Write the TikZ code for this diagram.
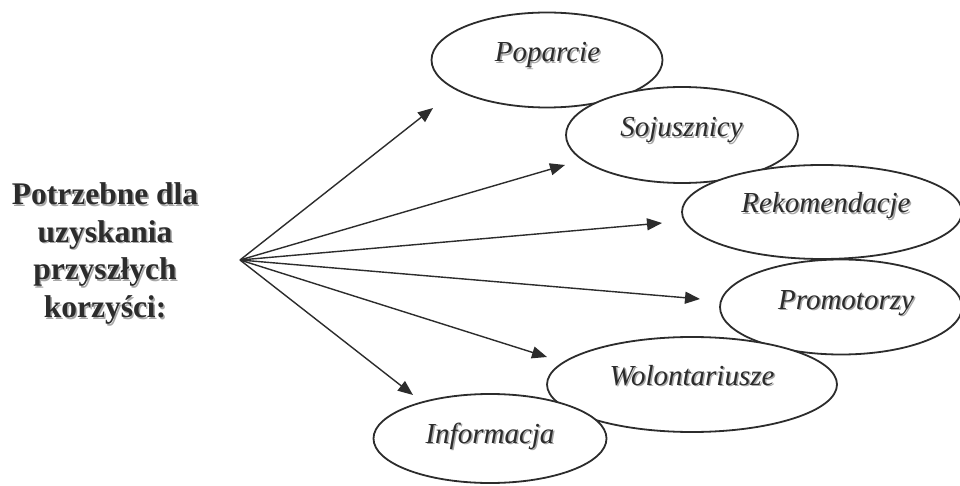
\documentclass[tikz,border=0pt]{standalone}
\usepackage{fontspec}
\setmainfont{Liberation Serif}
\usetikzlibrary{arrows.meta,shapes.geometric}
\definecolor{ink}{HTML}{2C2C2C}
\definecolor{shade}{HTML}{A8A8A8}
\begin{document}
\begin{tikzpicture}[x=1pt,y=-1pt,
  oval/.style={ellipse, draw=ink, line width=1.8pt, fill=white, inner sep=0pt},
  lbl/.style={anchor=base, inner sep=0pt, text=ink, font=\fontsize{29}{34}\selectfont\itshape},
  lblshadow/.style={lbl, text=shade},
  ttl/.style={anchor=north, align=center, inner sep=0pt, text=ink, font=\fontsize{31.5}{37.7}\selectfont\bfseries},
  ttlshadow/.style={ttl, text=shade},
  arr/.style={draw=ink, line width=1.4pt, -{Triangle[length=15pt,width=12pt]}}]
\useasboundingbox (0,0) rectangle (960,486);
\fill[white] (0,0) rectangle (960,486);
% ellipses
\node[oval, minimum width=231pt, minimum height=95pt] (pop) at (547,60) {};
\node[oval, minimum width=232pt, minimum height=96pt] (soj) at (682,135) {};
\node[oval, minimum width=280pt, minimum height=94pt] (rek) at (822,212) {};
\node[oval, minimum width=242pt, minimum height=95pt] (pro) at (841,307) {};
\node[oval, minimum width=290pt, minimum height=95pt] (wol) at (692,384.5) {};
\node[oval, minimum width=233pt, minimum height=89pt] (inf) at (490,438.5) {};
% labels with shadow
\node[lblshadow] at (549,63.5) {Poparcie};
\node[lbl] (popl) at (547.5,62) {Poparcie};
\node[lblshadow] at (683,138.5) {Sojusznicy};
\node[lbl] (sojl) at (681.5,137) {Sojusznicy};
\node[lblshadow] at (827.5,214.5) {Rekomendacje};
\node[lbl] (rekl) at (826,213) {Rekomendacje};
\node[lblshadow] at (847.5,310.5) {Promotorzy};
\node[lbl] (prol) at (846,309) {Promotorzy};
\node[lblshadow] at (693.5,386.5) {Wolontariusze};
\node[lbl] (woll) at (692,385) {Wolontariusze};
\node[lblshadow] at (491.5,444.5) {Informacja};
\node[lbl] (infl) at (490,443) {Informacja};
% title
\node[ttlshadow] at (106.5,184) {Potrzebne dla\\uzyskania\\przyszłych\\korzyści:};
\node[ttl] (title) at (105,182.5) {Potrzebne dla\\uzyskania\\przyszłych\\korzyści:};
% arrows
\coordinate (src) at (240,260);
\coordinate (t1) at (433,108);
\coordinate (t2) at (565,165);
\coordinate (t3) at (662,223);
\coordinate (t4) at (700,299);
\coordinate (t5) at (547,357);
\coordinate (t6) at (413,395);
\foreach \t in {t1,t2,t3,t4,t5,t6} \draw[arr] (src) -- (\t);
\end{tikzpicture}
\end{document}
